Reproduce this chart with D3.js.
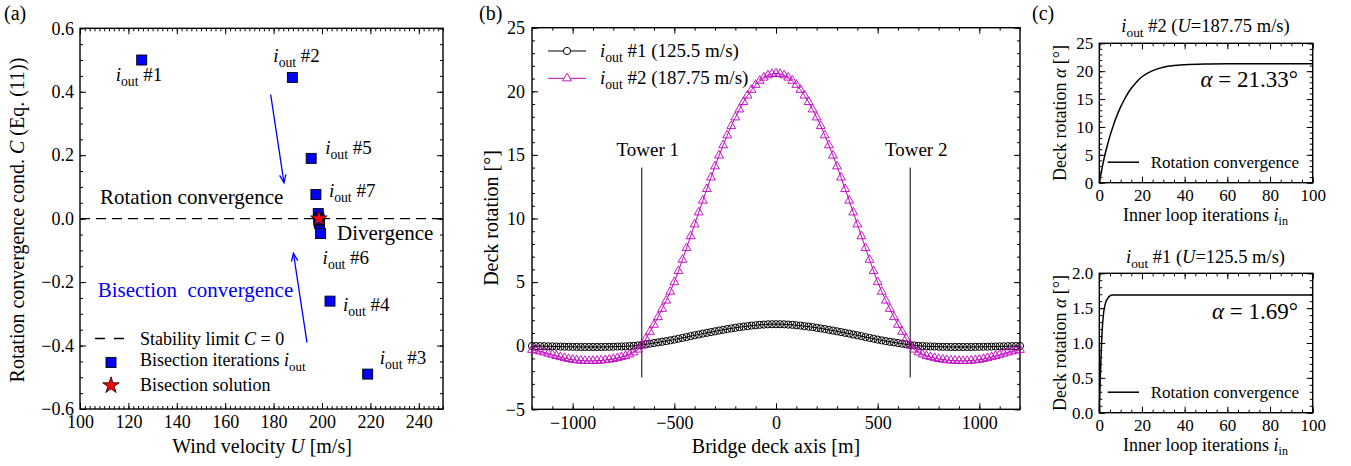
<!DOCTYPE html>
<html><head><meta charset="utf-8">
<script src="https://cdn.jsdelivr.net/npm/d3@7"></script>
<style>
body{margin:0;background:#fff}
svg{display:block}
text{font-family:"Liberation Serif",serif;fill:#000}
</style>
</head><body>
<svg id="fig" width="1351" height="466"></svg>
<script>
// (a) bisection iterations of the outer loop
const iterU = [125.5, 187.75, 218.875, 203.31, 195.53, 199.42, 197.48, 198.45, 198.94, 198.69, 198.82, 198.76];
const iterC = [0.50, 0.445, -0.49, -0.26, 0.19, -0.047, 0.076, 0.016, -0.015, 0.002, -0.007, -0.003];
const iterNames = ["#1", "#2", "#3", "#4", "#5", "#6", "#7"];
const solU = [198.72];
const solC = [0.0];
const aTicksX = [100, 120, 140, 160, 180, 200, 220, 240];
const aTicksY = [-0.6, -0.4, -0.2, 0.0, 0.2, 0.4, 0.6];

// (b) deck rotation along the bridge axis
const deckX = [-1200,-1180,-1160,-1140,-1120,-1100,-1080,-1060,-1040,-1020,-1000,-980,-960,-940,-920,-900,-880,-860,-840,-820,-800,-780,-760,-740,-720,-700,-680,-660,-640,-620,-600,-580,-560,-540,-520,-500,-480,-460,-440,-420,-400,-380,-360,-340,-320,-300,-280,-260,-240,-220,-200,-180,-160,-140,-120,-100,-80,-60,-40,-20,0,20,40,60,80,100,120,140,160,180,200,220,240,260,280,300,320,340,360,380,400,420,440,460,480,500,520,540,560,580,600,620,640,660,680,700,720,740,760,780,800,820,840,860,880,900,920,940,960,980,1000,1020,1040,1060,1080,1100,1120,1140,1160,1180,1200];
const rot1 = [-0.02,-0.03,-0.03,-0.04,-0.05,-0.05,-0.06,-0.07,-0.08,-0.08,-0.09,-0.09,-0.10,-0.10,-0.10,-0.10,-0.10,-0.10,-0.09,-0.09,-0.08,-0.07,-0.06,-0.05,-0.03,-0.01,0.02,0.06,0.11,0.16,0.21,0.26,0.31,0.36,0.42,0.48,0.55,0.61,0.68,0.75,0.82,0.88,0.95,1.01,1.07,1.13,1.19,1.25,1.31,1.36,1.41,1.46,1.50,1.54,1.58,1.61,1.64,1.66,1.68,1.69,1.69,
  1.69,1.68,1.66,1.64,1.61,1.58,1.54,1.50,1.46,1.41,1.36,1.31,1.25,1.19,1.13,1.07,1.01,0.95,0.88,0.82,0.75,0.68,0.61,0.55,0.48,0.42,0.36,0.31,0.26,0.21,0.16,0.11,0.06,0.02,-0.01,-0.03,-0.05,-0.06,-0.07,-0.08,-0.09,-0.09,-0.10,-0.10,-0.10,-0.10,-0.10,-0.10,-0.09,-0.09,-0.08,-0.08,-0.07,-0.06,-0.05,-0.05,-0.04,-0.03,-0.03,-0.02];
const rot2 = [-0.32,-0.38,-0.45,-0.53,-0.62,-0.71,-0.80,-0.89,-0.97,-1.04,-1.10,-1.14,-1.17,-1.19,-1.20,-1.19,-1.18,-1.16,-1.13,-1.09,-1.04,-0.97,-0.89,-0.80,-0.68,-0.52,-0.30,0.02,0.55,1.10,1.65,2.25,2.90,3.55,4.25,5.00,5.87,6.76,7.68,8.61,9.54,10.48,11.41,12.32,13.23,14.10,14.95,15.76,16.54,17.27,17.95,18.58,19.16,19.67,20.12,20.51,20.83,21.08,21.26,21.36,21.40,
  21.36,21.26,21.08,20.83,20.51,20.12,19.67,19.16,18.58,17.95,17.27,16.54,15.76,14.95,14.10,13.23,12.32,11.41,10.48,9.54,8.61,7.68,6.76,5.87,5.00,4.25,3.55,2.90,2.25,1.65,1.10,0.55,0.02,-0.30,-0.52,-0.68,-0.80,-0.89,-0.97,-1.04,-1.09,-1.13,-1.16,-1.18,-1.19,-1.20,-1.19,-1.17,-1.14,-1.10,-1.04,-0.97,-0.89,-0.80,-0.71,-0.62,-0.53,-0.45,-0.38,-0.32];
const towerX = [-660, 660];
const towerNames = ["Tower 1", "Tower 2"];
const bTicksX = [-1000, -500, 0, 500, 1000];
const bTicksY = [-5, 0, 5, 10, 15, 20, 25];

// (c) inner loop convergence
const inIter2 = [0, 1, 2, 3, 4, 5, 6, 8, 10, 12, 14, 16, 18, 20, 25, 30, 35, 40, 50, 60, 70, 80, 90, 100];
const inAlpha2 = [0, 2.0, 3.9, 5.6, 7.0, 8.4, 9.6, 11.8, 13.6, 15.1, 16.4, 17.4, 18.3, 19.0, 20.1, 20.7, 21.0, 21.15, 21.28, 21.32, 21.33, 21.33, 21.33, 21.33];
const inIter1 = [0, 0.5, 1, 1.5, 2, 3, 4, 5, 6, 8, 10, 100];
const inAlpha1 = [0, 0.55, 0.95, 1.25, 1.43, 1.58, 1.645, 1.675, 1.688, 1.69, 1.69, 1.69];
const cTicksX = [0, 20, 40, 60, 80, 100];
const cTicksY2 = [0, 5, 10, 15, 20, 25];
const cTicksY1 = [0.0, 0.5, 1.0, 1.5, 2.0];

const svg = d3.select("#fig");
const FS = 18;

function iout(rest, fs) {
  const d = Math.round(fs * 0.28);
  return `<tspan font-style="italic">i</tspan><tspan style="font-size:${fs * 0.72}px" dy="${d}">out</tspan><tspan dy="${-d}">${rest}</tspan>`;
}

function frame(x, y, o) {
  const g = svg.append("g");
  const [x0, x1] = x.range(), [y0, y1] = y.range();
  const blank = () => "";
  const mk = (axis, tr, vals, size, fmt) => g.append("g")
    .attr("transform", tr)
    .call(axis.tickValues(vals).tickSize(size).tickPadding(o.pad).tickFormat(fmt))
    .call(s => s.select(".domain").remove())
    .call(s => s.attr("font-family", null).attr("font-size", o.fs))
    .call(s => s.selectAll("line").attr("stroke", "#000"));
  mk(d3.axisBottom(x), `translate(0,${y0})`, o.xMaj, -6, o.xFmt);
  mk(d3.axisBottom(x), `translate(0,${y0})`, o.xMin, -3, blank);
  mk(d3.axisTop(x), `translate(0,${y1})`, o.xMaj, -6, blank);
  mk(d3.axisTop(x), `translate(0,${y1})`, o.xMin, -3, blank);
  mk(d3.axisLeft(y), `translate(${x0},0)`, o.yMaj, -6, o.yFmt);
  mk(d3.axisLeft(y), `translate(${x0},0)`, o.yMin, -3, blank);
  mk(d3.axisRight(y), `translate(${x1},0)`, o.yMaj, -6, blank);
  mk(d3.axisRight(y), `translate(${x1},0)`, o.yMin, -3, blank);
  g.append("rect").attr("x", x0).attr("y", y1).attr("width", x1 - x0).attr("height", y0 - y1)
    .attr("fill", "none").attr("stroke", "#000").attr("stroke-width", 1.4);
  return g;
}

function txt(x, y, html, fs, extra) {
  const t = svg.append("text").attr("x", x).attr("y", y).attr("font-size", fs).html(html);
  if (extra) extra(t);
  return t;
}

// arrow marker
svg.append("defs").append("marker").attr("id", "arr").attr("viewBox", "-10 -6 12 12")
  .attr("markerWidth", 12).attr("markerHeight", 12).attr("markerUnits", "userSpaceOnUse")
  .attr("orient", "auto")
  .append("path").attr("d", "M-8,-3.2L0,0L-8,3.2").attr("fill", "none").attr("stroke", "#0000ff").attr("stroke-width", 1.3);

// ---------------- (a)
const xA = d3.scaleLinear([100, 250], [80, 443]);
const yA = d3.scaleLinear([-0.6, 0.6], [409, 28.3]);
frame(xA, yA, {xMaj: aTicksX, xMin: d3.range(100, 251, 2), yMaj: aTicksY, yMin: d3.range(-0.6, 0.601, 0.05),
  xFmt: d3.format("d"), yFmt: d3.format(".1f"), fs: FS, pad: 6});

svg.append("line").attr("x1", xA(100)).attr("x2", xA(250)).attr("y1", yA(0)).attr("y2", yA(0))
  .attr("stroke", "#000").attr("stroke-width", 1.4).attr("stroke-dasharray", "10,6");

const aOff = [[-26, 21], [-19, -15], [12, -10], [13, 10], [14, -4], [2, 30], [13, 2]];
iterNames.forEach((n, i) => txt(xA(iterU[i]) + aOff[i][0], yA(iterC[i]) + aOff[i][1], iout(" " + n, 19), 19));

// arrows
svg.append("line").attr("x1", xA(178.8)).attr("y1", yA(0.391)).attr("x2", xA(184.3)).attr("y2", yA(0.113))
  .attr("stroke", "#0000ff").attr("stroke-width", 1.3).attr("marker-end", "url(#arr)");
svg.append("line").attr("x1", xA(193.8)).attr("y1", yA(-0.391)).attr("x2", xA(188.2)).attr("y2", yA(-0.109))
  .attr("stroke", "#0000ff").attr("stroke-width", 1.3).attr("marker-end", "url(#arr)");

txt(100, 204, "Rotation convergence", 21);
txt(337, 239.5, "Divergence", 21);
txt(97.7, 297, "Bisection&#160;&#160;convergence", 21, t => t.style("fill", "#0000ff"));

svg.append("g").selectAll("rect").data(iterU).join("rect")
  .attr("x", d => xA(d) - 5).attr("y", (d, i) => yA(iterC[i]) - 5).attr("width", 10).attr("height", 10)
  .attr("fill", "#0000ff").attr("stroke", "#000").attr("stroke-width", 0.9);
const star = d3.symbol(d3.symbolStar, 85);
svg.append("g").selectAll("path").data(solU).join("path")
  .attr("d", star).attr("transform", (d, i) => `translate(${xA(d)},${yA(solC[i])})`)
  .attr("fill", "#ff0000").attr("stroke", "#000").attr("stroke-width", 0.8);

// legend (a)
svg.append("line").attr("x1", 95).attr("x2", 124).attr("y1", 338.5).attr("y2", 338.5)
  .attr("stroke", "#000").attr("stroke-width", 1.4).attr("stroke-dasharray", "10,9");
txt(140, 344.5, 'Stability limit <tspan font-style="italic">C</tspan> = 0', 18);
svg.append("rect").attr("x", 106).attr("y", 357.5).attr("width", 10).attr("height", 10)
  .attr("fill", "#0000ff").attr("stroke", "#000").attr("stroke-width", 0.9);
txt(140, 366, "Bisection iterations " + iout("", 18), 18);
svg.append("path").attr("d", star).attr("transform", "translate(111,385.5)")
  .attr("fill", "#ff0000").attr("stroke", "#000").attr("stroke-width", 0.8);
txt(140, 391, "Bisection solution", 18);

txt(262, 453, 'Wind velocity <tspan font-style="italic">U</tspan> [m/s]', 20, t => t.attr("text-anchor", "middle"));
txt(0, 0, 'Rotation convergence cond. <tspan font-style="italic">C</tspan> (Eq. (11))', 20,
  t => t.attr("text-anchor", "middle").attr("transform", "translate(24,220) rotate(-90)"));
txt(4, 20, "(a)", 20);

// ---------------- (b)
const xB = d3.scaleLinear([-1200, 1200], [532, 1020]);
const yB = d3.scaleLinear([-5, 25], [409.3, 27.7]);
frame(xB, yB, {xMaj: bTicksX, xMin: d3.range(-1200, 1201, 100), yMaj: bTicksY, yMin: d3.range(-5, 25.01, 1),
  xFmt: d3.format("d"), yFmt: d3.format("d"), fs: FS, pad: 7});

towerX.forEach((t, i) => {
  svg.append("line").attr("x1", xB(t)).attr("x2", xB(t)).attr("y1", yB(-2.5)).attr("y2", yB(14))
    .attr("stroke", "#000").attr("stroke-width", 1);
  txt(xB(t) + 6, yB(14.9), towerNames[i], 19, s => s.attr("text-anchor", "middle"));
});

const line1 = d3.line().x((d, i) => xB(deckX[i])).y(d => yB(d));
svg.append("path").datum(rot1).attr("d", line1).attr("fill", "none").attr("stroke", "#000").attr("stroke-width", 1);
svg.append("g").selectAll("circle").data(rot1).join("circle")
  .attr("cx", (d, i) => xB(deckX[i])).attr("cy", d => yB(d)).attr("r", 3.6)
  .attr("fill", "none").attr("stroke", "#000").attr("stroke-width", 1);
svg.append("path").datum(rot2).attr("d", line1).attr("fill", "none").attr("stroke", "#bf00bf").attr("stroke-width", 1);
const tri = d3.symbol(d3.symbolTriangle, 34);
svg.append("g").selectAll("path").data(rot2).join("path")
  .attr("d", tri).attr("transform", (d, i) => `translate(${xB(deckX[i])},${yB(d)})`)
  .attr("fill", "none").attr("stroke", "#bf00bf").attr("stroke-width", 0.9);

// legend (b)
svg.append("line").attr("x1", 548).attr("x2", 586).attr("y1", 51).attr("y2", 51).attr("stroke", "#000");
svg.append("circle").attr("cx", 567).attr("cy", 51).attr("r", 3.6).attr("fill", "#fff").attr("stroke", "#000").attr("stroke-width", 1);
txt(600, 57, iout(" #1 (125.5 m/s)", 19), 19);
svg.append("line").attr("x1", 548).attr("x2", 586).attr("y1", 78.3).attr("y2", 78.3).attr("stroke", "#bf00bf");
svg.append("path").attr("d", tri).attr("transform", "translate(567,78.3)").attr("fill", "#fff").attr("stroke", "#bf00bf").attr("stroke-width", 0.9);
txt(600, 84, iout(" #2 (187.75 m/s)", 19), 19);

txt(776, 453, "Bridge deck axis [m]", 20, t => t.attr("text-anchor", "middle"));
txt(0, 0, "Deck rotation [°]", 20, t => t.attr("text-anchor", "middle").attr("transform", "translate(498,218) rotate(-90)"));
txt(479, 20, "(b)", 20);

// ---------------- (c)
const xC = d3.scaleLinear([0, 100], [1099.3, 1312.7]);
const yC2 = d3.scaleLinear([0, 25], [182.7, 43.3]);
const yC1 = d3.scaleLinear([0, 2], [412.7, 273.3]);
const cOpt = {xMaj: cTicksX, xMin: d3.range(0, 101, 5), xFmt: d3.format("d"), fs: 17, pad: 6};
frame(xC, yC2, Object.assign({yMaj: cTicksY2, yMin: d3.range(0, 25.01, 1), yFmt: d3.format("d")}, cOpt));
frame(xC, yC1, Object.assign({yMaj: cTicksY1, yMin: d3.range(0, 2.001, 0.1), yFmt: d3.format(".1f")}, cOpt));

svg.append("path").datum(inAlpha2)
  .attr("d", d3.line().x((d, i) => xC(inIter2[i])).y(d => yC2(d)).curve(d3.curveMonotoneX))
  .attr("fill", "none").attr("stroke", "#000").attr("stroke-width", 1.5);
svg.append("path").datum(inAlpha1)
  .attr("d", d3.line().x((d, i) => xC(inIter1[i])).y(d => yC1(d)).curve(d3.curveMonotoneX))
  .attr("fill", "none").attr("stroke", "#000").attr("stroke-width", 1.5);

[[yC2, 32, " #2 (<tspan font-style=\"italic\">U</tspan>=187.75 m/s)", "α = 21.33°", 87],
 [yC1, 263, " #1 (<tspan font-style=\"italic\">U</tspan>=125.5 m/s)", "α = 1.69°", 319]].forEach(([y, ty, title, ann, ay]) => {
  const top = y.range()[1], bot = y.range()[0];
  txt(1205.5, ty, iout(title, 18.5), 18.5, t => t.attr("text-anchor", "middle"));
  txt(1298, ay, '<tspan font-style="italic">α</tspan> = ' + ann.split("= ")[1], 23, t => t.attr("text-anchor", "end"));
  svg.append("line").attr("x1", 1107.7).attr("x2", 1139).attr("y1", bot - 20.5).attr("y2", bot - 20.5).attr("stroke", "#000").attr("stroke-width", 1.5);
  txt(1150.7, bot - 15, "Rotation convergence", 17);
  txt(1205.5, bot + 38, 'Inner loop iterations <tspan font-style="italic">i</tspan><tspan style="font-size:12px" dy="4">in</tspan>', 18,
    t => t.attr("text-anchor", "middle"));
  txt(0, 0, 'Deck rotation <tspan font-style="italic">α</tspan> [°]', 18,
    t => t.attr("text-anchor", "middle").attr("transform", `translate(1066,${(top + bot) / 2}) rotate(-90)`));
});
txt(1032, 20, "(c)", 20);
</script>
</body></html>
